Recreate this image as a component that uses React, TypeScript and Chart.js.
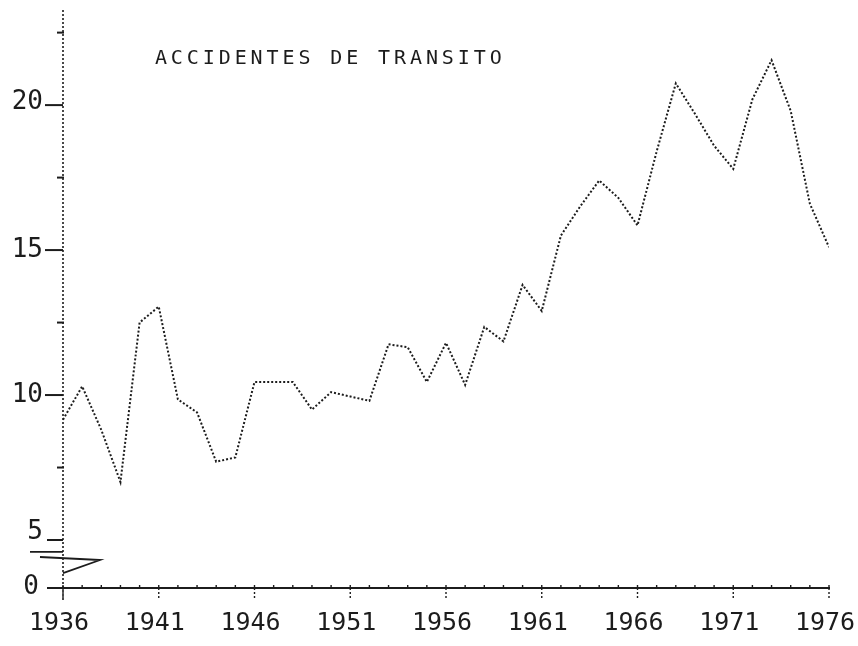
import { useEffect, useRef } from "react";
import { Chart, registerables } from "chart.js";

Chart.register(...registerables);

// ---- data ----
const years = [
  1936, 1937, 1938, 1939, 1940, 1941, 1942, 1943, 1944, 1945,
  1946, 1947, 1948, 1949, 1950, 1951, 1952, 1953, 1954, 1955,
  1956, 1957, 1958, 1959, 1960, 1961, 1962, 1963, 1964, 1965,
  1966, 1967, 1968, 1969, 1970, 1971, 1972, 1973, 1974, 1975, 1976,
];
const accidents = [
  9.15, 10.3, 8.8, 7.0, 12.5, 13.05, 9.85, 9.4, 7.7, 7.85,
  10.45, 10.45, 10.45, 9.5, 10.1, 9.95, 9.8, 11.75, 11.65, 10.45,
  11.8, 10.35, 12.35, 11.85, 13.8, 12.9, 15.5, 16.5, 17.4, 16.8,
  15.85, 18.4, 20.75, 19.7, 18.6, 17.8, 20.2, 21.55, 19.8, 16.6, 15.1,
];
const xTickYears = [1936, 1941, 1946, 1951, 1956, 1961, 1966, 1971, 1976];
const yLabelledTicks = [5, 10, 15, 20];
const yMinorTicks = [7.5, 12.5, 17.5, 22.5];
const zeroLabel = "0";
const titleText = "ACCIDENTES DE TRANSITO";

// broken axis: value at which the "0" baseline is drawn, and top of the axis
const Y_FLOOR = 3.345;
const Y_TOP = 23.28;
const X_MIN = 1936;
const X_MAX = 1976;

const INK = "#1c1c1c";
const MONO = "'DejaVu Sans Mono', 'Liberation Mono', monospace";

const decorPlugin = {
  id: "decor",
  afterDraw(chart: any) {
    const ctx = chart.ctx as CanvasRenderingContext2D;
    const xs = chart.scales.x;
    const ys = chart.scales.y;
    const left = chart.chartArea.left;
    const bottom = ys.getPixelForValue(Y_FLOOR);
    ctx.save();
    ctx.strokeStyle = INK;
    ctx.fillStyle = INK;

    // y axis (dotted)
    ctx.lineWidth = 1.6;
    ctx.setLineDash([2, 2]);
    ctx.beginPath();
    ctx.moveTo(left, chart.chartArea.top);
    ctx.lineTo(left, bottom + 12);
    ctx.stroke();
    ctx.setLineDash([]);

    // y ticks and labels
    ctx.font = `26px ${MONO}`;
    ctx.textAlign = "right";
    ctx.textBaseline = "middle";
    ctx.lineWidth = 2;
    for (const v of yLabelledTicks) {
      const y = ys.getPixelForValue(v);
      ctx.beginPath();
      ctx.moveTo(left - (v === 5 ? 16 : 18), y);
      ctx.lineTo(left, y);
      ctx.stroke();
      const dy = v === 5 ? -8 : v === 20 ? -3 : 0;
      ctx.fillText(String(v), left - 20, y + dy);
    }
    ctx.fillText(zeroLabel, left - 24, bottom - 1);
    for (const v of yMinorTicks) {
      const y = ys.getPixelForValue(v);
      ctx.beginPath();
      ctx.moveTo(left - 6, y);
      ctx.lineTo(left + 1, y);
      ctx.stroke();
    }

    // axis break zigzag
    const yA = ys.getPixelForValue(4.59);
    const yB = ys.getPixelForValue(4.38);
    const yC = ys.getPixelForValue(3.86);
    ctx.lineWidth = 1.8;
    ctx.beginPath();
    ctx.moveTo(left - 33, yA);
    ctx.lineTo(left, yA);
    ctx.moveTo(left - 23, yB - 1);
    ctx.lineTo(left + 37, yB + 2);
    ctx.lineTo(left, yC);
    ctx.stroke();

    // x axis
    ctx.lineWidth = 2;
    ctx.beginPath();
    ctx.moveTo(left - 16, bottom);
    ctx.lineTo(xs.getPixelForValue(X_MAX) + 1, bottom);
    ctx.stroke();
    ctx.lineWidth = 1.4;
    for (const yr of years) {
      const x = xs.getPixelForValue(yr);
      ctx.beginPath();
      ctx.moveTo(x, bottom - 3);
      ctx.lineTo(x, bottom);
      ctx.stroke();
    }
    ctx.setLineDash([2, 2]);
    for (const yr of xTickYears) {
      const x = xs.getPixelForValue(yr);
      ctx.beginPath();
      ctx.moveTo(x, bottom);
      ctx.lineTo(x, bottom + 11);
      ctx.stroke();
    }
    ctx.setLineDash([]);

    // x labels
    ctx.font = `25px ${MONO}`;
    ctx.textAlign = "center";
    ctx.textBaseline = "middle";
    for (const yr of xTickYears) {
      const x = xs.getPixelForValue(yr);
      ctx.fillText(String(yr), x - 4, bottom + 35);
    }

    // title
    ctx.font = `20px ${MONO}`;
    (ctx as any).letterSpacing = "3.9px";
    ctx.textAlign = "left";
    ctx.textBaseline = "middle";
    ctx.fillText(titleText, xs.getPixelForValue(1940.8), ys.getPixelForValue(21.6));
    ctx.restore();
  },
};

export default function App() {
  const canvasRef = useRef<HTMLCanvasElement | null>(null);

  useEffect(() => {
    document.body.style.margin = "0";
    const canvas = canvasRef.current;
    if (!canvas) return;
    const chart = new Chart(canvas, {
      type: "line",
      data: {
        datasets: [
          {
            label: "Accidentes de tránsito",
            data: years.map((yr, i) => ({ x: yr, y: accidents[i] })),
            borderColor: INK,
            borderWidth: 2,
            borderDash: [2, 2],
            pointRadius: 0,
            tension: 0,
            fill: false,
          },
        ],
      },
      options: {
        animation: false,
        responsive: false,
        maintainAspectRatio: false,
        layout: { padding: { top: 10, right: 29, left: 63, bottom: 58 } },
        plugins: {
          legend: { display: false },
          tooltip: { enabled: false },
          title: { display: false },
        },
        scales: {
          x: { type: "linear", display: false, min: X_MIN, max: X_MAX },
          y: { type: "linear", display: false, min: Y_FLOOR, max: Y_TOP },
        },
      },
      plugins: [decorPlugin],
    });
    return () => chart.destroy();
  }, []);

  return (
    <div style={{ width: 858, height: 646, background: "#fff" }}>
      <canvas ref={canvasRef} width={858} height={646} style={{ display: "block" }} />
    </div>
  );
}
